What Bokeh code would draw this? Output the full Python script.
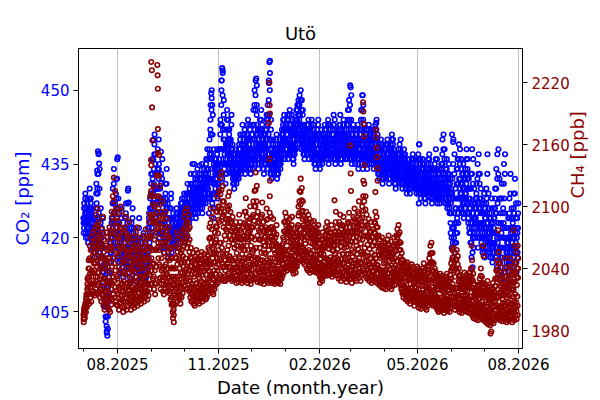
import math
from datetime import datetime, timedelta
from bokeh.plotting import figure
from bokeh.models import Range1d, LinearAxis, FixedTicker, DatetimeTickFormatter
from bokeh.embed import file_html
from bokeh.resources import INLINE

# ---------------- data: six readings per day (00, 03, 06, 12, 15, 18 h) ----------------
months = ["2025-07", "2025-08", "2025-09", "2025-10", "2025-11", "2025-12",
          "2026-01", "2026-02", "2026-03", "2026-04", "2026-05", "2026-06", "2026-07"]

# CO2 [ppm], readings at 06:00 and 18:00 of each day
co2_by_month = [
    [421,427, 423,429, 420,426, 422,428, 419,425, 421,430, 424,428, 420,426, 418,423, 417,422, 416,424, 418,431, 421,433, 419,437, 417,434, 416,426, 414,422, 413,424, 410,418, 406,414, 403,410, 401,408, 404,412, 407,416, 411,420, 415,424, 418,430, 421,434, 416,427, 419,432, 422,436],
    [418,428, 415,425, 413,422, 416,426, 414,421, 412,420, 415,424, 417,427, 414,422, 416,430, 413,421, 411,418, 414,423, 416,426, 418,422, 415,420, 413,419, 411,417, 414,420, 416,424, 412,418, 410,416, 413,419, 415,421, 411,417, 409,415, 412,418, 414,422, 416,425, 418,428, 420,433],
    [422,436, 425,440, 428,441, 424,437, 421,433, 423,438, 426,435, 420,430, 418,433, 421,436, 419,428, 417,425, 420,431, 422,434, 418,427, 416,423, 418,426, 420,429, 417,424, 419,425, 418,422, 420,424, 419,426, 421,425, 418,423, 420,425, 422,427, 421,428, 423,426, 422,429],
    [419,427, 421,429, 420,431, 424,428, 423,430, 425,433, 424,429, 426,431, 425,435, 427,432, 424,429, 426,434, 425,430, 427,433, 426,432, 428,435, 425,431, 427,434, 429,433, 427,436, 430,438, 428,434, 425,440, 428,447, 432,450, 427,445, 424,438, 426,436, 430,436, 432,438, 428,435],
    [430,438, 433,444, 435,452, 432,454, 436,448, 434,442, 431,439, 433,446, 435,444, 437,442, 434,440, 436,445, 433,439, 431,437, 430,436, 432,438, 431,435, 433,437, 432,439, 434,441, 433,437, 435,443, 434,440, 436,442, 433,439, 435,441, 437,444, 434,440, 436,443, 433,438],
    [435,441, 434,446, 436,450, 435,452, 437,447, 436,442, 434,440, 436,444, 438,446, 435,443, 437,441, 433,439, 435,442, 436,445, 434,447, 437,452, 435,456, 433,444, 432,438, 434,440, 433,437, 435,439, 434,441, 432,438, 433,436, 435,440, 434,438, 436,442, 438,444, 437,445, 436,443],
    [437,443, 438,445, 436,444, 439,446, 437,443, 438,445, 436,442, 435,441, 437,444, 438,446, 440,447, 439,448, 441,449, 440,450, 438,448, 439,446, 437,443, 436,442, 438,441, 437,443, 439,444, 436,441, 438,442, 437,444, 436,440, 438,443, 435,441, 434,440, 436,442, 437,444, 435,441],
    [434,440, 436,442, 435,439, 437,441, 436,443, 438,442, 436,440, 437,444, 435,441, 437,443, 436,439, 438,442, 437,445, 436,444, 435,440, 437,442, 436,441, 438,443, 437,445, 435,442, 436,440, 438,444, 437,442, 436,441, 437,443, 436,446, 438,448, 437,451],
    [436,444, 435,441, 437,443, 436,440, 435,442, 437,441, 436,443, 434,440, 436,442, 437,446, 435,449, 434,447, 436,443, 435,441, 436,442, 434,440, 436,443, 435,441, 437,442, 435,440, 436,442, 434,441, 436,443, 435,444, 434,441, 433,439, 432,438, 434,440, 433,439, 431,437, 432,438],
    [433,439, 432,437, 434,440, 433,438, 431,436, 432,439, 434,441, 433,440, 432,438, 431,436, 430,435, 432,437, 433,438, 431,439, 432,440, 431,437, 430,436, 431,438, 432,437, 430,435, 429,434, 431,436, 430,435, 429,433, 430,436, 431,437, 432,436, 430,434, 431,435, 429,433],
    [430,437, 427,439, 429,436, 428,434, 430,436, 429,435, 428,433, 427,432, 429,434, 430,436, 431,437, 429,435, 428,433, 427,432, 428,434, 429,435, 430,438, 428,436, 427,433, 428,434, 427,432, 429,435, 428,440, 430,441, 429,438, 427,434, 428,436, 426,433, 427,435, 425,432, 421,430],
    [418,432, 416,440, 420,437, 417,430, 419,434, 421,436, 423,439, 426,438, 428,436, 425,433, 427,435, 424,432, 426,434, 428,438, 425,436, 423,432, 421,430, 419,433, 416,438, 414,436, 418,430, 420,428, 423,431, 421,435, 418,437, 420,433, 422,430, 419,427, 417,425, 418,429],
    [416,426, 418,430, 420,437, 417,429, 419,425, 416,424, 418,428, 415,423, 417,426, 419,430, 416,434, 414,437, 417,438, 415,432, 413,428, 416,431, 412,425, 418,435, 420,437, 411,422, 414,420, 416,424, 413,428, 415,433, 417,426, 414,423, 416,429, 418,432, 415,427, 413,424, 416,427],
]

# CO2 [ppm], readings at 00:00 and 12:00 of each day
co2_mid_by_month = [
    [424,422, 426,425, 423,424, 425,424, 422,421, 426,424, 426,425, 423,422, 420,421, 419,420, 420,418, 423,426, 427,424, 429,424, 425,421, 421,419, 418,416, 418,416, 414,413, 410,409, 406,408, 404,406, 408,410, 411,413, 415,417, 419,421, 424,422, 427,425, 421,423, 425,423, 428,426],
    [423,421, 420,418, 417,419, 421,419, 417,418, 416,415, 419,420, 422,420, 418,417, 423,420, 417,416, 414,415, 418,420, 421,419, 420,419, 417,418, 416,415, 414,413, 417,416, 420,418, 415,414, 413,412, 416,415, 418,417, 414,413, 412,411, 415,414, 418,416, 420,422, 423,421, 426,429],
    [429,426, 432,429, 434,437, 430,433, 427,425, 430,427, 430,432, 425,423, 425,428, 428,425, 423,425, 421,420, 425,427, 428,426, 422,424, 419,420, 422,421, 424,426, 420,421, 422,421, 420,419, 422,421, 422,423, 423,422, 420,421, 422,423, 424,425, 424,426, 424,425, 425,426],
    [423,422, 425,424, 425,427, 426,425, 426,428, 429,427, 426,427, 428,429, 430,428, 429,430, 426,427, 430,428, 427,428, 430,429, 429,428, 431,430, 428,427, 430,431, 431,430, 431,433, 434,432, 431,430, 432,436, 437,442, 441,437, 436,432, 431,429, 431,429, 433,432, 435,434, 431,433],
    [434,433, 438,441, 443,447, 443,438, 442,440, 438,437, 435,436, 439,442, 439,440, 439,440, 437,436, 440,438, 436,435, 434,433, 433,432, 435,434, 433,432, 435,434, 435,436, 437,438, 435,434, 439,437, 437,436, 439,438, 436,435, 438,437, 440,441, 437,436, 439,440, 435,436],
    [438,437, 440,438, 443,440, 442,446, 441,443, 439,438, 437,436, 440,438, 442,441, 439,440, 439,438, 436,435, 438,439, 440,442, 440,443, 444,441, 445,440, 438,440, 435,434, 437,436, 435,434, 437,436, 437,438, 435,434, 434,435, 437,438, 436,435, 439,438, 441,440, 441,442, 439,440],
    [440,439, 441,442, 440,439, 442,443, 440,439, 441,442, 439,438, 438,437, 440,441, 442,441, 443,444, 443,445, 445,444, 445,443, 443,441, 442,443, 440,439, 439,438, 439,440, 440,439, 441,442, 438,439, 440,439, 440,441, 438,437, 440,441, 438,437, 437,436, 439,438, 440,441, 438,437],
    [437,436, 439,438, 437,436, 439,438, 439,440, 440,439, 438,437, 440,441, 438,437, 440,439, 437,438, 440,439, 441,440, 440,439, 437,438, 439,440, 438,439, 440,441, 441,440, 438,439, 438,437, 441,440, 439,440, 438,439, 440,439, 441,439, 443,441, 444,440],
    [440,439, 438,437, 440,439, 438,437, 438,439, 439,438, 439,440, 437,436, 439,438, 441,440, 442,439, 440,438, 439,440, 438,437, 439,438, 437,436, 439,440, 438,437, 439,440, 437,438, 439,438, 437,438, 439,440, 439,438, 437,438, 436,435, 435,434, 437,436, 436,435, 434,433, 435,434],
    [436,435, 434,435, 437,436, 435,436, 433,434, 435,436, 437,438, 436,437, 435,434, 433,434, 432,433, 434,435, 435,436, 435,434, 436,435, 434,433, 433,432, 434,435, 434,435, 432,433, 431,432, 433,434, 432,433, 431,430, 433,432, 434,433, 434,433, 432,431, 433,432, 431,430],
    [433,434, 433,431, 432,433, 431,430, 433,432, 432,431, 430,431, 429,430, 431,432, 433,432, 434,433, 432,431, 430,431, 429,430, 431,430, 432,431, 434,433, 432,431, 430,429, 431,430, 429,430, 432,431, 434,431, 435,433, 433,432, 430,431, 432,430, 429,430, 431,430, 428,429, 425,427],
    [425,422, 428,422, 428,425, 423,426, 426,423, 428,431, 431,428, 432,430, 432,431, 429,428, 431,430, 428,427, 430,429, 433,431, 430,432, 427,428, 425,426, 426,423, 427,422, 425,420, 424,422, 424,423, 427,426, 428,425, 427,423, 426,428, 426,425, 423,422, 421,420, 423,425],
    [421,420, 424,422, 428,425, 423,421, 422,421, 420,419, 423,421, 419,418, 421,422, 424,426, 425,421, 425,420, 427,423, 423,420, 420,418, 423,421, 418,416, 426,423, 428,425, 416,418, 417,416, 420,419, 420,418, 424,420, 421,422, 418,419, 422,420, 425,422, 421,419, 418,420, 421,422],
]

# CO2 [ppm], readings at 03:00 and 15:00 of each day
co2_extra_by_month = [
    [423,426, 424,428, 421,425, 423,427, 420,424, 422,428, 425,427, 421,425, 419,422, 418,421, 417,422, 420,429, 422,430, 421,433, 419,430, 417,423, 415,420, 414,421, 411,416, 407,412, 404,409, 402,407, 406,411, 409,415, 413,419, 417,423, 420,427, 423,431, 418,425, 421,429, 424,432],
    [419,426, 416,423, 415,421, 417,424, 415,420, 413,418, 417,422, 418,425, 415,420, 418,427, 414,419, 412,417, 416,422, 417,424, 418,421, 416,419, 414,418, 412,416, 415,419, 417,422, 413,417, 411,415, 414,418, 416,420, 412,416, 410,414, 413,417, 415,420, 418,424, 419,426, 423,431],
    [424,433, 427,436, 431,439, 427,435, 423,430, 425,434, 428,434, 421,428, 421,431, 423,432, 421,427, 418,423, 422,429, 424,431, 420,426, 417,422, 419,424, 422,428, 418,423, 420,424, 419,421, 421,423, 420,425, 422,424, 419,422, 421,424, 423,426, 422,427, 423,426, 423,428],
    [420,425, 422,427, 422,429, 425,427, 424,429, 426,431, 425,428, 427,430, 426,433, 428,431, 425,428, 427,432, 426,429, 428,432, 427,431, 429,433, 426,430, 428,432, 430,432, 429,435, 431,436, 429,433, 428,438, 432,444, 434,446, 429,441, 426,435, 428,434, 431,435, 433,437, 429,434],
    [431,436, 435,443, 438,450, 435,449, 438,445, 435,440, 433,438, 435,444, 437,442, 438,441, 435,439, 437,443, 434,438, 432,436, 431,435, 433,437, 432,434, 434,436, 433,438, 435,440, 434,436, 436,441, 435,439, 437,441, 434,438, 436,440, 438,443, 435,439, 437,442, 434,437],
    [436,440, 436,443, 438,447, 438,449, 439,445, 437,441, 435,439, 437,442, 439,444, 437,442, 438,440, 434,438, 436,441, 438,444, 436,445, 439,448, 437,450, 435,442, 433,437, 435,439, 434,436, 436,438, 435,440, 433,437, 433,436, 436,439, 435,437, 437,441, 439,443, 439,444, 437,442],
    [438,442, 439,444, 437,442, 440,445, 438,442, 439,444, 437,441, 436,440, 438,443, 439,444, 441,446, 441,447, 442,447, 442,448, 440,446, 440,445, 438,442, 437,441, 438,441, 438,442, 440,443, 437,440, 439,441, 438,443, 437,439, 439,442, 436,440, 435,439, 437,441, 438,443, 436,440],
    [435,439, 437,441, 436,438, 438,440, 437,442, 439,441, 437,439, 438,443, 436,440, 438,442, 437,439, 439,441, 438,443, 437,442, 436,439, 438,441, 437,440, 439,442, 438,443, 436,441, 437,439, 439,443, 438,441, 437,440, 438,442, 437,444, 439,446, 439,447],
    [437,442, 436,440, 438,442, 437,439, 436,441, 438,440, 437,442, 435,439, 437,441, 438,444, 437,446, 436,444, 437,442, 436,440, 437,441, 435,439, 437,442, 436,440, 438,441, 436,439, 437,441, 435,440, 437,442, 436,442, 435,440, 434,438, 433,437, 435,439, 434,438, 432,436, 433,437],
    [434,438, 433,436, 435,439, 434,437, 432,435, 433,438, 435,440, 434,439, 433,437, 432,435, 431,434, 433,436, 434,437, 432,437, 433,438, 432,436, 431,435, 432,437, 433,436, 431,434, 430,433, 432,435, 431,434, 430,432, 431,435, 432,436, 433,435, 431,433, 432,434, 430,432],
    [431,436, 429,436, 430,435, 429,433, 431,435, 430,434, 429,432, 428,431, 430,433, 431,435, 432,436, 430,434, 429,432, 428,431, 429,433, 430,434, 431,436, 429,434, 428,432, 429,433, 428,431, 430,434, 430,437, 431,438, 430,436, 428,433, 429,434, 427,432, 428,433, 426,431, 423,429],
    [420,429, 419,435, 422,433, 419,428, 421,431, 424,434, 425,436, 428,435, 429,434, 426,431, 428,433, 425,430, 427,432, 429,436, 427,434, 424,430, 422,428, 421,430, 419,433, 417,431, 420,427, 421,426, 424,429, 423,432, 420,433, 422,431, 423,428, 420,425, 418,423, 420,427],
    [417,424, 419,427, 422,433, 419,426, 420,424, 417,422, 419,426, 416,421, 418,424, 421,428, 418,430, 417,432, 419,433, 417,428, 415,425, 418,428, 414,422, 420,431, 422,433, 413,420, 415,419, 417,422, 415,425, 417,429, 418,424, 415,421, 418,426, 420,429, 417,424, 415,422, 417,425],
]

# CH4 [ppb], readings at 06:00 and 18:00 of each day
ch4_by_month = [
    [1988,2002, 1992,2006, 1998,2015, 2003,2030, 2008,2048, 2006,2062, 2012,2070, 2008,2058, 2015,2075, 2018,2066, 2014,2080, 2020,2092, 2016,2098, 2024,2085, 2018,2070, 2012,2062, 2008,2078, 2014,2090, 2004,2068, 2000,2050, 2006,2075, 2008,2070, 2002,2060, 2000,2080, 1998,2075, 2005,2095, 2010,2110, 2015,2128, 2012,2115, 2008,2098, 2005,2090],
    [2004,2085, 2000,2070, 2006,2100, 2010,2095, 2003,2075, 1998,2060, 2002,2080, 2008,2090, 2000,2068, 2004,2072, 2010,2085, 2006,2065, 2000,2050, 2004,2060, 2008,2070, 2002,2058, 2006,2075, 2010,2080, 2004,2062, 2008,2055, 2012,2070, 2006,2050, 2010,2060, 2014,2072, 2008,2065, 2012,2078, 2016,2070, 2010,2060, 2014,2085, 2020,2110, 2025,2140],
    [2025,2110, 2030,2120, 2020,2100, 2015,2085, 2025,2130, 2060,2175, 2050,2150, 2030,2120, 2020,2095, 2025,2105, 2018,2090, 2015,2080, 2020,2095, 2024,2088, 2018,2072, 2022,2080, 2016,2070, 2010,2060, 2005,2050, 1998,2040, 1995,2030, 2005,2062, 2012,2075, 2008,2068, 2014,2072, 2010,2060, 2006,2055, 2012,2070, 2016,2078, 2020,2090],
    [2024,2095, 2028,2098, 2020,2085, 2025,2092, 2018,2080, 2012,2060, 2008,2050, 2010,2055, 2006,2048, 2004,2052, 2009,2058, 2012,2055, 2008,2050, 2006,2045, 2010,2052, 2013,2056, 2008,2048, 2011,2054, 2014,2050, 2010,2046, 2012,2053, 2015,2060, 2018,2080, 2020,2098, 2022,2090, 2017,2070, 2015,2062, 2020,2075, 2024,2095, 2028,2110, 2026,2100],
    [2030,2115, 2034,2128, 2032,2133, 2030,2120, 2028,2105, 2032,2095, 2028,2088, 2030,2100, 2033,2110, 2035,2114, 2030,2095, 2032,2085, 2028,2090, 2031,2080, 2029,2075, 2033,2085, 2026,2070, 2030,2080, 2027,2092, 2032,2085, 2029,2075, 2026,2068, 2030,2080, 2028,2095, 2032,2108, 2029,2090, 2026,2075, 2031,2085, 2028,2100, 2025,2080],
    [2029,2090, 2033,2105, 2030,2115, 2035,2133, 2030,2120, 2027,2095, 2031,2085, 2028,2075, 2026,2090, 2030,2104, 2028,2085, 2025,2070, 2029,2080, 2032,2098, 2028,2088, 2026,2075, 2030,2125, 2028,2090, 2026,2080, 2030,2088, 2027,2075, 2025,2070, 2028,2082, 2030,2062, 2026,2055, 2028,2060, 2025,2058, 2030,2062, 2033,2070, 2036,2085, 2040,2094],
    [2042,2090, 2038,2085, 2040,2080, 2043,2088, 2040,2078, 2044,2090, 2038,2074, 2035,2070, 2040,2075, 2036,2068, 2042,2080, 2046,2100, 2050,2115, 2054,2127, 2048,2118, 2052,2105, 2046,2090, 2044,2080, 2048,2095, 2040,2085, 2038,2092, 2042,2088, 2036,2080, 2040,2085, 2038,2078, 2042,2086, 2037,2075, 2040,2080, 2036,2074, 2038,2082, 2035,2070],
    [2026,2060, 2030,2068, 2028,2075, 2032,2065, 2034,2072, 2036,2080, 2033,2085, 2035,2078, 2038,2070, 2034,2075, 2036,2082, 2032,2072, 2035,2068, 2038,2076, 2034,2095, 2037,2080, 2033,2072, 2030,2085, 2034,2092, 2028,2078, 2032,2082, 2036,2090, 2030,2075, 2033,2080, 2027,2068, 2030,2085, 2034,2094, 2030,2080],
    [2030,2085, 2026,2075, 2032,2090, 2035,2098, 2030,2085, 2028,2080, 2033,2095, 2036,2105, 2031,2088, 2028,2082, 2034,2100, 2040,2125, 2038,2140, 2035,2110, 2032,2092, 2030,2080, 2034,2088, 2028,2075, 2032,2085, 2026,2070, 2030,2078, 2028,2085, 2032,2095, 2030,2090, 2026,2080, 2028,2072, 2024,2068, 2027,2062, 2022,2070, 2025,2065, 2021,2058],
    [2025,2065, 2020,2058, 2024,2068, 2028,2072, 2022,2060, 2026,2066, 2020,2055, 2023,2062, 2027,2070, 2024,2064, 2028,2072, 2032,2078, 2030,2082, 2026,2075, 2024,2065, 2020,2055, 2016,2048, 2012,2045, 2015,2040, 2010,2044, 2013,2046, 2008,2040, 2011,2038, 2006,2042, 2009,2044, 2012,2040, 2008,2036, 2004,2032, 2008,2038, 2010,2042],
    [2006,2040, 2002,2036, 2005,2038, 2001,2034, 2004,2040, 2008,2045, 2005,2038, 2002,2032, 2000,2035, 2004,2042, 2008,2050, 2012,2062, 2010,2065, 2006,2055, 2004,2045, 2008,2040, 2005,2036, 2002,2034, 2000,2030, 1998,2032, 2001,2035, 1999,2030, 2002,2033, 2000,2028, 1997,2026, 2000,2032, 2003,2035, 1999,2030, 2001,2028, 1998,2034, 2002,2045],
    [2005,2058, 2008,2060, 2004,2055, 2000,2048, 2003,2058, 2006,2052, 2001,2040, 1998,2034, 2000,2030, 1997,2028, 2000,2032, 2003,2036, 1999,2030, 2002,2034, 1998,2028, 2001,2032, 1997,2036, 2000,2040, 1996,2048, 1994,2035, 1992,2025, 1995,2020, 1991,2018, 1994,2024, 1990,2020, 1993,2030, 1997,2040, 1992,2032, 1995,2026, 1990,2022],
    [1992,2025, 1988,2020, 1990,2028, 1986,2018, 1989,2022, 1985,2016, 1988,2020, 1991,2026, 1987,2018, 1990,2030, 1993,2038, 1996,2048, 1992,2056, 1995,2045, 1990,2030, 1993,2025, 1989,2020, 1992,2036, 1996,2050, 1990,2032, 1988,2024, 1992,2030, 1990,2042, 1994,2050, 1991,2035, 1988,2026, 1992,2034, 1990,2045, 1994,2056, 1991,2040, 1995,2050],
]

# CH4 [ppb], readings at 00:00 and 12:00 of each day
ch4_mid_by_month = [
    [1995,1998, 1999,2002, 2006,2010, 2014,2020, 2022,2032, 2028,2040, 2035,2048, 2025,2038, 2036,2052, 2032,2045, 2038,2055, 2045,2062, 2042,2068, 2048,2060, 2036,2050, 2030,2042, 2032,2050, 2040,2060, 2026,2044, 2018,2030, 2030,2048, 2028,2045, 2022,2038, 2028,2050, 2025,2046, 2035,2058, 2042,2070, 2050,2085, 2045,2075, 2038,2062, 2032,2055],
    [2030,2052, 2022,2042, 2035,2062, 2038,2060, 2026,2046, 2018,2036, 2028,2050, 2034,2058, 2022,2040, 2026,2044, 2035,2055, 2025,2040, 2016,2030, 2022,2038, 2028,2045, 2020,2036, 2028,2048, 2032,2052, 2022,2040, 2024,2036, 2030,2046, 2020,2032, 2026,2040, 2032,2048, 2026,2042, 2032,2050, 2034,2048, 2026,2040, 2036,2056, 2048,2072, 2060,2090],
    [2050,2075, 2058,2085, 2045,2068, 2038,2058, 2058,2090, 2095,2130, 2080,2110, 2058,2085, 2042,2065, 2050,2072, 2040,2062, 2035,2055, 2042,2065, 2044,2062, 2035,2050, 2040,2056, 2032,2048, 2026,2040, 2020,2032, 2012,2025, 2006,2018, 2024,2040, 2032,2050, 2026,2044, 2032,2048, 2026,2040, 2022,2036, 2030,2046, 2036,2052, 2042,2062],
    [2046,2066, 2050,2070, 2040,2060, 2046,2065, 2038,2056, 2028,2042, 2022,2034, 2025,2038, 2020,2032, 2020,2035, 2025,2040, 2026,2040, 2022,2035, 2018,2030, 2024,2036, 2028,2042, 2022,2034, 2025,2038, 2026,2038, 2022,2034, 2026,2040, 2030,2045, 2038,2058, 2045,2070, 2044,2065, 2034,2050, 2030,2046, 2038,2055, 2046,2068, 2055,2080, 2050,2074],
    [2058,2085, 2065,2095, 2065,2098, 2060,2090, 2054,2080, 2052,2072, 2048,2068, 2054,2076, 2058,2084, 2062,2088, 2052,2072, 2050,2068, 2048,2068, 2048,2064, 2044,2060, 2050,2068, 2040,2055, 2046,2062, 2048,2070, 2050,2068, 2044,2060, 2040,2054, 2046,2062, 2050,2072, 2058,2082, 2050,2070, 2042,2058, 2050,2068, 2052,2076, 2044,2062],
    [2050,2070, 2056,2080, 2058,2086, 2068,2100, 2060,2090, 2050,2072, 2050,2068, 2044,2060, 2048,2068, 2055,2080, 2048,2066, 2040,2055, 2046,2062, 2054,2076, 2048,2068, 2042,2058, 2062,2094, 2050,2070, 2044,2062, 2050,2068, 2043,2058, 2040,2055, 2046,2064, 2040,2052, 2036,2046, 2038,2050, 2036,2048, 2040,2052, 2045,2058, 2052,2068, 2058,2076],
    [2058,2074, 2054,2070, 2053,2066, 2058,2072, 2052,2065, 2060,2075, 2050,2062, 2046,2058, 2052,2064, 2046,2057, 2055,2068, 2064,2082, 2072,2094, 2078,2102, 2072,2095, 2070,2088, 2060,2075, 2056,2068, 2064,2080, 2055,2070, 2056,2074, 2058,2073, 2050,2065, 2055,2070, 2051,2064, 2057,2071, 2050,2062, 2053,2066, 2048,2061, 2053,2068, 2046,2058],
    [2038,2049, 2042,2055, 2044,2060, 2043,2054, 2046,2060, 2050,2066, 2050,2068, 2049,2064, 2048,2059, 2048,2062, 2051,2067, 2045,2058, 2046,2057, 2050,2063, 2054,2075, 2051,2066, 2046,2059, 2048,2066, 2053,2072, 2045,2061, 2049,2066, 2054,2072, 2045,2060, 2049,2064, 2041,2054, 2048,2066, 2054,2074, 2047,2063],
    [2048,2066, 2042,2058, 2051,2070, 2056,2077, 2048,2066, 2045,2062, 2054,2074, 2059,2082, 2050,2069, 2046,2064, 2056,2078, 2068,2096, 2072,2105, 2060,2085, 2052,2072, 2047,2063, 2052,2070, 2044,2059, 2050,2067, 2041,2055, 2046,2062, 2047,2066, 2053,2074, 2050,2070, 2044,2062, 2043,2057, 2039,2053, 2039,2050, 2038,2054, 2038,2051, 2033,2045],
    [2038,2051, 2033,2045, 2039,2053, 2043,2057, 2035,2047, 2039,2052, 2032,2043, 2036,2049, 2041,2055, 2037,2050, 2043,2057, 2047,2062, 2047,2064, 2042,2058, 2037,2051, 2032,2043, 2027,2037, 2023,2034, 2023,2031, 2021,2032, 2024,2035, 2019,2029, 2020,2029, 2018,2030, 2021,2032, 2021,2030, 2017,2026, 2013,2022, 2018,2028, 2021,2031],
    [2017,2028, 2013,2024, 2016,2027, 2012,2023, 2016,2028, 2020,2032, 2016,2027, 2012,2022, 2012,2023, 2017,2029, 2022,2036, 2029,2045, 2028,2046, 2022,2038, 2018,2031, 2019,2029, 2015,2025, 2013,2023, 2010,2020, 2009,2020, 2012,2023, 2009,2019, 2012,2022, 2009,2018, 2007,2016, 2011,2021, 2014,2024, 2009,2019, 2010,2019, 2010,2022, 2016,2030],
    [2022,2040, 2025,2042, 2021,2038, 2016,2032, 2021,2040, 2021,2036, 2014,2027, 2010,2022, 2010,2020, 2007,2017, 2011,2021, 2014,2025, 2009,2019, 2013,2023, 2008,2018, 2011,2021, 2010,2023, 2013,2027, 2013,2030, 2008,2021, 2003,2014, 2003,2011, 2000,2009, 2004,2014, 2000,2010, 2005,2018, 2011,2026, 2005,2019, 2005,2016, 2001,2012],
    [2003,2014, 1999,2009, 2003,2016, 1997,2007, 2000,2011, 1995,2005, 1999,2009, 2003,2015, 1997,2008, 2003,2017, 2008,2023, 2013,2031, 2013,2035, 2012,2029, 2003,2017, 2004,2014, 1999,2010, 2007,2021, 2014,2032, 2004,2018, 2000,2012, 2005,2017, 2007,2025, 2013,2031, 2006,2020, 2001,2013, 2006,2020, 2008,2027, 2015,2035, 2007,2024, 2013,2031],
]

# CH4 [ppb], readings at 03:00 and 15:00 of each day
ch4_extra_by_month = [
    [1991,2000, 1995,2004, 2002,2012, 2008,2025, 2015,2040, 2016,2050, 2022,2058, 2016,2048, 2025,2062, 2025,2055, 2026,2066, 2032,2076, 2028,2082, 2036,2072, 2026,2060, 2020,2052, 2020,2064, 2026,2074, 2015,2056, 2009,2040, 2018,2062, 2018,2058, 2012,2050, 2014,2065, 2011,2060, 2020,2076, 2026,2090, 2032,2105, 2028,2095, 2022,2080, 2018,2072],
    [2016,2068, 2011,2056, 2020,2080, 2024,2078, 2014,2060, 2008,2048, 2015,2065, 2020,2074, 2011,2054, 2015,2058, 2022,2070, 2015,2052, 2008,2040, 2013,2049, 2018,2058, 2011,2047, 2017,2062, 2021,2066, 2013,2051, 2016,2045, 2021,2058, 2013,2041, 2018,2050, 2023,2060, 2017,2054, 2022,2064, 2025,2059, 2018,2050, 2025,2070, 2034,2092, 2042,2115],
    [2038,2092, 2044,2102, 2032,2084, 2026,2072, 2042,2110, 2078,2152, 2065,2130, 2044,2102, 2031,2080, 2038,2088, 2029,2076, 2025,2068, 2031,2080, 2034,2075, 2026,2061, 2031,2068, 2024,2059, 2018,2050, 2012,2041, 2005,2032, 2000,2024, 2014,2051, 2022,2062, 2017,2056, 2023,2060, 2018,2050, 2014,2045, 2021,2058, 2026,2065, 2031,2076],
    [2035,2080, 2039,2084, 2030,2072, 2035,2078, 2028,2068, 2020,2051, 2015,2042, 2017,2046, 2013,2040, 2012,2044, 2017,2049, 2019,2048, 2015,2042, 2012,2038, 2017,2044, 2020,2049, 2015,2041, 2018,2046, 2020,2044, 2016,2040, 2019,2047, 2022,2052, 2028,2069, 2032,2084, 2033,2078, 2025,2060, 2022,2054, 2029,2065, 2035,2081, 2041,2095, 2038,2087],
    [2044,2100, 2050,2112, 2048,2116, 2045,2105, 2041,2092, 2042,2084, 2038,2078, 2042,2088, 2045,2097, 2048,2101, 2041,2084, 2041,2077, 2038,2079, 2040,2072, 2036,2068, 2041,2077, 2033,2062, 2038,2071, 2037,2081, 2041,2077, 2036,2068, 2033,2061, 2038,2071, 2039,2084, 2045,2095, 2039,2080, 2034,2066, 2040,2077, 2040,2088, 2034,2071],
    [2039,2080, 2044,2092, 2044,2100, 2051,2116, 2045,2105, 2038,2084, 2040,2077, 2036,2068, 2037,2079, 2042,2092, 2038,2076, 2032,2062, 2037,2071, 2043,2087, 2038,2078, 2034,2066, 2046,2110, 2039,2080, 2035,2071, 2040,2078, 2035,2066, 2032,2062, 2037,2073, 2035,2057, 2031,2050, 2033,2055, 2030,2053, 2035,2057, 2039,2064, 2044,2076, 2049,2085],
    [2050,2082, 2046,2078, 2046,2073, 2050,2080, 2046,2071, 2052,2082, 2044,2068, 2040,2064, 2046,2070, 2041,2062, 2048,2074, 2055,2091, 2061,2105, 2066,2114, 2060,2106, 2061,2096, 2053,2082, 2050,2074, 2056,2088, 2047,2078, 2047,2083, 2050,2080, 2043,2072, 2047,2078, 2044,2071, 2049,2078, 2043,2068, 2046,2073, 2042,2067, 2045,2075, 2040,2064],
    [2032,2054, 2036,2061, 2036,2068, 2037,2060, 2040,2066, 2043,2073, 2041,2076, 2042,2071, 2043,2064, 2041,2068, 2043,2074, 2038,2065, 2040,2062, 2044,2070, 2044,2085, 2044,2073, 2039,2066, 2039,2075, 2043,2082, 2036,2070, 2040,2074, 2045,2081, 2037,2068, 2041,2072, 2034,2061, 2039,2075, 2044,2084, 2038,2072],
    [2039,2075, 2034,2066, 2041,2080, 2045,2088, 2039,2075, 2036,2071, 2043,2084, 2047,2093, 2040,2078, 2037,2073, 2045,2089, 2054,2110, 2055,2122, 2047,2097, 2042,2082, 2038,2071, 2043,2079, 2036,2067, 2041,2076, 2033,2062, 2038,2070, 2037,2075, 2042,2084, 2040,2080, 2035,2071, 2035,2064, 2031,2060, 2033,2056, 2030,2062, 2031,2058, 2027,2051],
    [2031,2058, 2026,2051, 2031,2060, 2035,2064, 2028,2054, 2032,2059, 2026,2049, 2029,2055, 2034,2062, 2030,2057, 2035,2064, 2039,2070, 2038,2073, 2034,2066, 2030,2058, 2026,2049, 2021,2042, 2017,2040, 2019,2035, 2015,2038, 2018,2040, 2013,2034, 2015,2033, 2012,2036, 2015,2038, 2016,2035, 2012,2031, 2008,2027, 2013,2033, 2015,2036],
    [2011,2034, 2007,2030, 2010,2032, 2006,2028, 2010,2034, 2014,2038, 2010,2032, 2007,2027, 2006,2029, 2010,2035, 2015,2043, 2020,2054, 2019,2055, 2014,2046, 2011,2038, 2013,2034, 2010,2030, 2007,2028, 2005,2025, 2003,2026, 2006,2029, 2004,2024, 2007,2027, 2004,2023, 2002,2021, 2005,2026, 2008,2029, 2004,2024, 2005,2023, 2004,2028, 2009,2038],
    [2013,2049, 2016,2051, 2012,2046, 2008,2040, 2012,2049, 2013,2044, 2007,2033, 2004,2028, 2005,2025, 2002,2022, 2005,2026, 2008,2030, 2004,2024, 2007,2028, 2003,2023, 2006,2026, 2003,2030, 2006,2033, 2004,2039, 2001,2028, 1997,2019, 1999,2015, 1995,2013, 1999,2019, 1995,2015, 1999,2024, 2004,2033, 1998,2025, 2000,2021, 1995,2017],
    [1997,2019, 1993,2014, 1996,2022, 1991,2012, 1994,2016, 1990,2010, 1993,2014, 1997,2020, 1992,2013, 1996,2023, 2000,2030, 2004,2039, 2002,2045, 2003,2037, 1996,2023, 1998,2019, 1994,2015, 1999,2028, 2005,2041, 1997,2025, 1994,2018, 1998,2023, 1998,2033, 2003,2040, 1998,2027, 1994,2019, 1999,2027, 1999,2036, 2004,2045, 1999,2032, 2004,2040],
]

# isolated readings (peaks / dips)
co2_spike_dates = ["2025-07-13 12:00", "2025-07-14 06:00", "2025-07-14 18:00", "2025-07-15 06:00",
                   "2025-07-22 06:00", "2025-07-22 18:00", "2025-07-23 06:00", "2025-08-01 06:00",
                   "2025-08-10 12:00", "2025-08-11 06:00", "2025-09-07 12:00", "2025-09-09 12:00",
                   "2025-10-08 06:00", "2025-10-14 18:00", "2025-10-25 06:00", "2025-10-25 18:00",
                   "2025-10-26 06:00", "2025-11-03 18:00", "2025-11-04 06:00", "2025-11-04 18:00",
                   "2025-12-05 06:00", "2025-12-05 18:00", "2025-12-16 18:00", "2025-12-17 06:00",
                   "2025-12-17 18:00", "2026-03-01 06:00", "2026-03-01 18:00", "2026-03-12 06:00",
                   "2026-03-24 12:00", "2026-05-02 12:00", "2026-06-01 12:00", "2026-06-02 12:00"]
co2_spike_values = [433.7, 437.6, 437.2, 435.1,
                    400.7, 400.1, 401.5, 436.4,
                    429.6, 427.2, 440.0, 437.5,
                    435.0, 434.7, 449.4, 448.4,
                    447.0, 452.0, 454.5, 453.5,
                    452.4, 451.0, 451.5, 455.7,
                    453.5, 450.6, 449.0, 449.0,
                    443.4, 439.0, 441.0, 439.5]

ch4_spike_dates = ["2025-08-31 12:00", "2025-08-31 18:00", "2025-09-01 06:00", "2025-09-01 12:00",
                   "2025-09-01 18:00", "2025-09-06 06:00", "2025-09-06 12:00", "2025-09-06 18:00",
                   "2025-09-20 12:00", "2025-09-21 06:00", "2025-12-16 18:00", "2025-12-17 06:00",
                   "2025-12-17 09:00", "2025-12-17 12:00", "2025-12-17 18:00", "2026-02-14 12:00",
                   "2026-02-28 18:00", "2026-03-01 06:00", "2026-03-01 12:00", "2026-03-12 12:00",
                   "2026-03-12 18:00", "2026-03-13 06:00", "2026-03-13 12:00", "2026-03-23 18:00",
                   "2026-03-24 06:00", "2026-03-24 12:00", "2026-03-24 18:00", "2026-03-25 06:00",
                   "2026-03-25 12:00", "2026-03-25 18:00", "2026-06-19 12:00", "2026-06-29 12:00",
                   "2026-06-30 06:00", "2026-07-06 12:00", "2026-07-07 06:00", "2026-07-13 12:00",
                   "2026-07-27 12:00", "2026-07-28 06:00", "2026-07-31 06:00"]
ch4_spike_values = [2145, 2240, 2232, 2196,
                    2164, 2237, 2227, 2214,
                    1992, 1988, 2181, 2220,
                    2146, 2198, 2190, 2106,
                    2159, 2132, 2115, 2201,
                    2192, 2180, 2168, 2114,
                    2174, 2167, 2157, 2148,
                    2137, 2125, 2062, 2062,
                    2052, 1977, 1979, 2077,
                    2077, 2062, 2062]

major_tick_dates = ["2025-08-01", "2025-11-01", "2026-02-01", "2026-05-01", "2026-08-01"]
minor_tick_dates = ["2025-07-01", "2025-08-01", "2025-09-01", "2025-10-01", "2025-11-01",
                    "2025-12-01", "2026-01-01", "2026-02-01", "2026-03-01", "2026-04-01",
                    "2026-05-01", "2026-06-01", "2026-07-01", "2026-08-01"]
co2_ticks = [405, 420, 435, 450]
ch4_ticks = [1980, 2040, 2100, 2160, 2220]

# ---------------- helpers ----------------
EPOCH = datetime(1970, 1, 1)


def ms(d):
    return (d - EPOCH).total_seconds() * 1000.0


def parse(s):
    return datetime.strptime(s, "%Y-%m-%d %H:%M") if " " in s else datetime.strptime(s, "%Y-%m-%d")


def expand(month_list, values_list, first_hour):
    xs, ys = [], []
    for m, vals in zip(month_list, values_list):
        start = datetime.strptime(m + "-01", "%Y-%m-%d")
        for i, v in enumerate(vals):
            xs.append(start + timedelta(hours=first_hour + 12 * i))
            ys.append(v)
    return xs, ys


co2_x, co2_y = [], []
for table, hour in ((co2_mid_by_month, 0), (co2_extra_by_month, 3), (co2_by_month, 6)):
    xs, ys = expand(months, table, hour)
    co2_x += xs
    co2_y += ys
co2_x += [parse(s) for s in co2_spike_dates]
co2_y += co2_spike_values

ch4_x, ch4_y = [], []
for table, hour in ((ch4_mid_by_month, 0), (ch4_extra_by_month, 3), (ch4_by_month, 6)):
    xs, ys = expand(months, table, hour)
    ch4_x += xs
    ch4_y += ys
ch4_x += [parse(s) for s in ch4_spike_dates]
ch4_y += ch4_spike_values

FONT = "DejaVu Sans"
BLUE = "#0000ff"
DRED = "#8b0000"

p = figure(
    x_axis_type="datetime",
    x_range=Range1d(datetime(2025, 6, 26, 12), datetime(2026, 8, 4, 15)),
    y_range=Range1d(397.5, 458.5),
    frame_width=444, frame_height=300,
    min_border_left=78, min_border_right=70, min_border_top=48, min_border_bottom=44,
    output_backend="svg", toolbar_location=None,
)
p.extra_y_ranges = {"ch4": Range1d(1962.6, 2253.0)}

p.title.text = "Utö"
p.title.align = "center"
p.title.text_font = FONT
p.title.text_font_size = "18px"
p.title.text_font_style = "normal"
p.title.text_color = "black"

p.outline_line_color = "black"
p.outline_line_width = 1
p.outline_line_alpha = 1
p.background_fill_color = "white"
p.border_fill_color = "white"

xticker = FixedTicker(ticks=[ms(parse(s)) for s in major_tick_dates],
                      minor_ticks=[ms(parse(s)) for s in minor_tick_dates])
fmt = "%m.%Y"
p.xaxis.ticker = xticker
p.xaxis.formatter = DatetimeTickFormatter(milliseconds=fmt, seconds=fmt, minsec=fmt, minutes=fmt,
                                          hourmin=fmt, hours=fmt, days=fmt, months=fmt, years=fmt)
p.xaxis.axis_label = "Date (month.year)"
p.xgrid.ticker = xticker
p.xgrid.grid_line_color = "#b0b0b0"
p.xgrid.grid_line_width = 0.8
p.ygrid.visible = False

p.yaxis.ticker = FixedTicker(ticks=co2_ticks)
p.yaxis.axis_label = "CO₂ [ppm]"
p.yaxis.axis_label_text_color = BLUE
p.yaxis.major_label_text_color = BLUE

right = LinearAxis(y_range_name="ch4", ticker=FixedTicker(ticks=ch4_ticks),
                   axis_label="CH₄ [ppb]")
right.axis_label_text_color = DRED
right.major_label_text_color = DRED
if "axis_label_orientation" in right.properties():
    right.axis_label_orientation = math.pi / 2
p.add_layout(right, "right")

for ax in p.xaxis + p.yaxis + [right]:
    ax.axis_line_color = "black"
    ax.major_tick_line_color = "black"
    ax.major_tick_out = 5
    ax.major_tick_in = 0
    ax.minor_tick_out = 3
    ax.minor_tick_in = 0
    ax.major_label_standoff = 4
    ax.axis_label_standoff = 8
    ax.major_label_text_font = FONT
    ax.major_label_text_font_size = "15px"
    ax.axis_label_text_font = FONT
    ax.axis_label_text_font_size = "18px"
    ax.axis_label_text_font_style = "normal"
for ax in p.yaxis + [right]:
    ax.minor_tick_line_color = None
p.yaxis.axis_label_standoff = 5
p.xaxis.axis_label_standoff = 4
p.xaxis.minor_tick_line_color = "black"
p.xaxis.axis_label_text_color = "black"
p.xaxis.major_label_text_color = "black"

p.scatter(co2_x, co2_y, marker="circle", size=4.5, fill_color=None,
          line_color=BLUE, line_width=1.6)
p.scatter(ch4_x, ch4_y, marker="circle", size=4.5, fill_color=None,
          line_color=DRED, line_width=1.6, y_range_name="ch4")

open("out.html", "w").write(file_html(p, INLINE))
